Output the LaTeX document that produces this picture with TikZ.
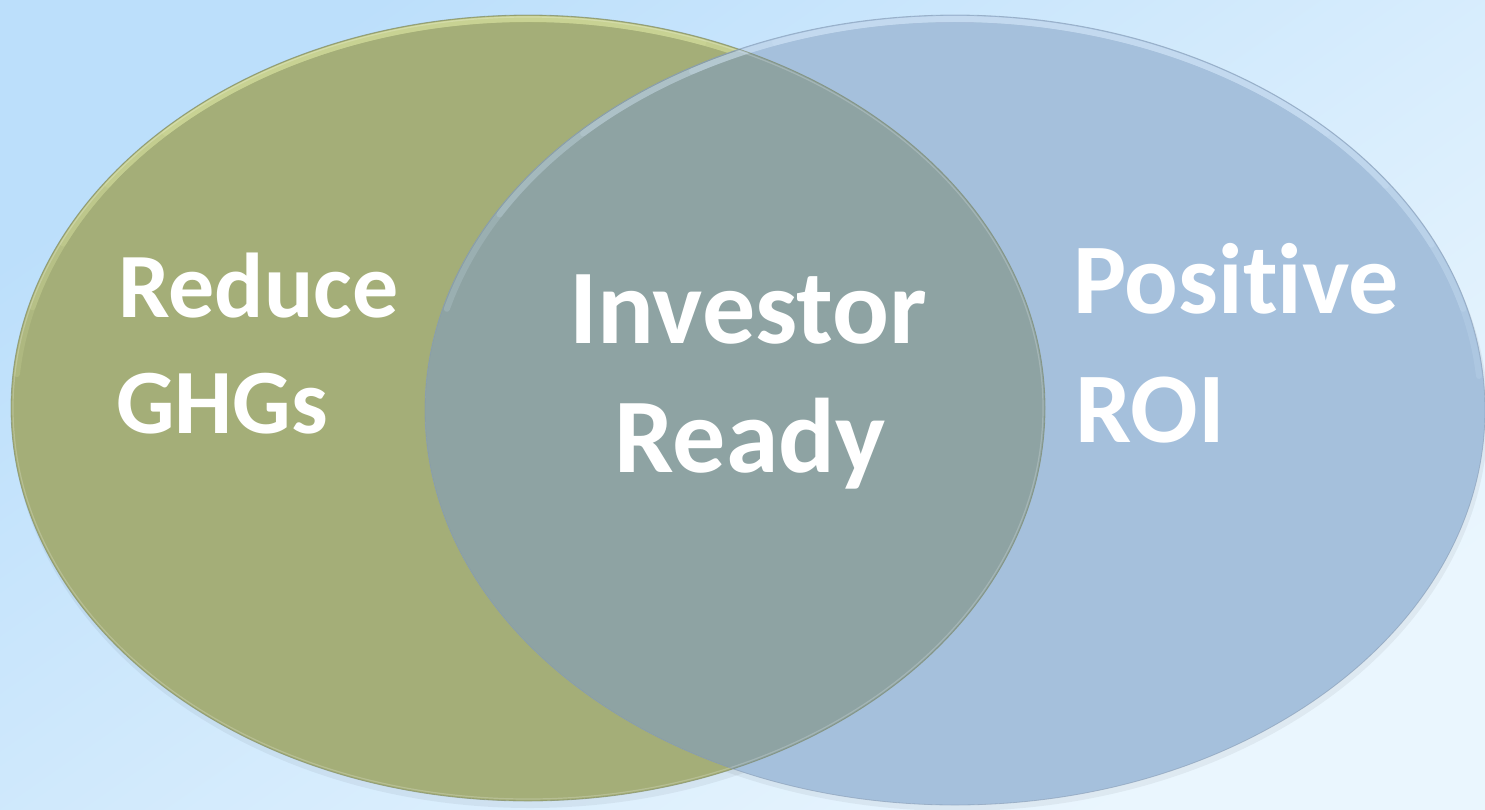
\documentclass[tikz,border=0pt]{standalone}
\usepackage{fontspec}
\newfontfamily\carlito[Ligatures=NoCommon]{Carlito}
\usetikzlibrary{shadings}
\definecolor{bgA}{RGB}{188,223,251}
\definecolor{bgB}{RGB}{234,246,254}
\definecolor{leftfill}{RGB}{164,174,120}
\definecolor{rightfill}{RGB}{165,192,220}
\definecolor{overfill}{RGB}{142,163,163}
\definecolor{leftedge}{RGB}{120,130,90}
\definecolor{rightedge}{RGB}{130,150,175}
\definecolor{leftglow}{RGB}{228,238,170}
\definecolor{rightglow}{RGB}{220,238,255}
\tikzset{
  lbl/.style={text=white, inner sep=0pt, anchor=base west},
  lblc/.style={text=white, inner sep=0pt, anchor=base},
  rim/.style={line width=0.8pt, opacity=0.55},
  glow/.style={line width=6pt, opacity=0.16, line cap=round}
}
\begin{document}
\begin{tikzpicture}[x=1pt,y=-1pt]
\useasboundingbox (0,0) rectangle (1485,809);
% background
\shade[shading=axis, top color=bgA, bottom color=bgB, shading angle=35] (0,0) rectangle (1485,809);
% soft shadow under ellipses
\fill[black, opacity=0.05] (530,414) ellipse [x radius=518, y radius=394];
\fill[black, opacity=0.05] (957,416) ellipse [x radius=531, y radius=395];
% left ellipse
\fill[leftfill] (528,408) ellipse [x radius=517, y radius=393];
\foreach \a/\b in {185/345,195/330,205/315,215/300,225/290}
  \draw[glow, leftglow] (528,408) ++(\a:513 and 389) arc[start angle=\a, end angle=\b, x radius=513, y radius=389];
% right ellipse
\fill[rightfill] (955,410) ellipse [x radius=530, y radius=395];
% overlap
\begin{scope}
  \clip (528,408) ellipse [x radius=517, y radius=393];
  \fill[overfill] (955,410) ellipse [x radius=530, y radius=395];
  \draw[white, line width=1.2pt, opacity=0.2] (528,408) ellipse [x radius=515, y radius=391];
\end{scope}
\foreach \a/\b in {195/355,210/345,225/335,240/325,250/315}
  \draw[glow, rightglow] (955,410) ++(\a:526 and 391) arc[start angle=\a, end angle=\b, x radius=526, y radius=391];
% rims
\draw[rim, leftedge] (528,408) ellipse [x radius=517, y radius=393];
\draw[rim, rightedge] (955,410) ellipse [x radius=530, y radius=395];
% labels
\node[lbl, font={\carlito\bfseries\fontsize{92}{110}\selectfont}] (reduce) at (118,317) {Reduce};
\node[lbl, font={\carlito\bfseries\fontsize{92}{110}\selectfont}] (ghgs) at (116,433) {GHGs};
\node[lblc, font={\carlito\bfseries\fontsize{106}{120}\selectfont}] (investor) at (748,343) {Investor};
\node[lblc, font={\carlito\bfseries\fontsize{106}{120}\selectfont}] (ready) at (750,472) {Ready};
\node[lbl, font={\carlito\bfseries\fontsize{100}{120}\selectfont}] (positive) at (1073,313) {Positive};
\node[lbl, font={\carlito\bfseries\fontsize{100}{120}\selectfont}] (roi) at (1075,442) {ROI};
\end{tikzpicture}
\end{document}
